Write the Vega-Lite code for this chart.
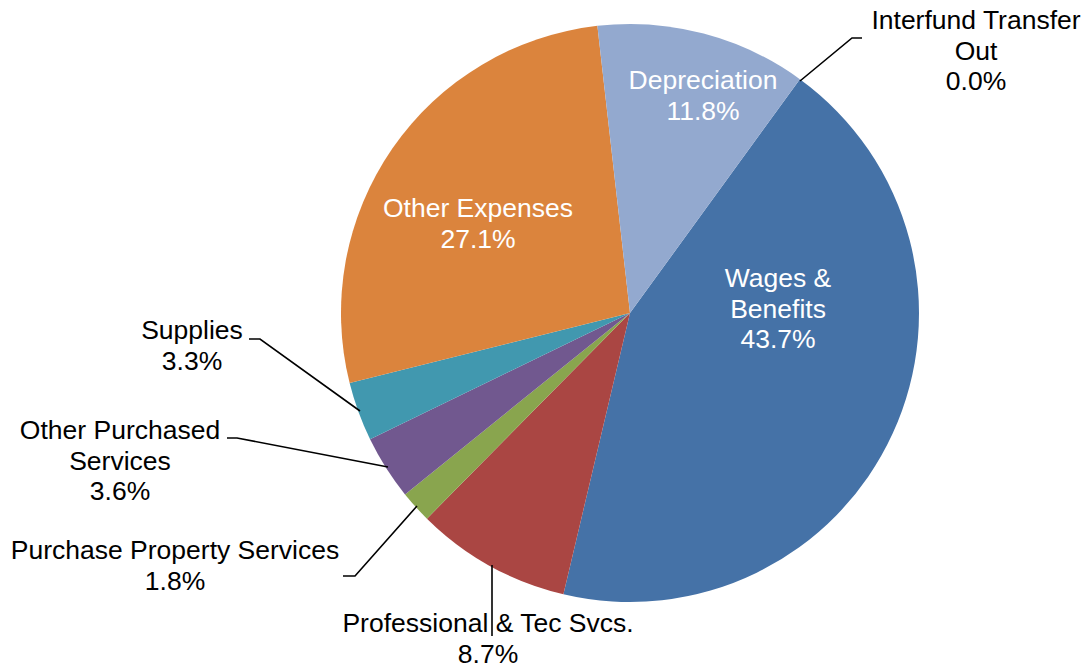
{
  "$schema": "https://vega.github.io/schema/vega-lite/v6.json",
  "autosize": "none",
  "width": 914,
  "height": 626,
  "padding": {"left": 173, "top": 0, "right": 0, "bottom": 41},
  "background": "white",
  "config": {"view": {"stroke": null}, "font": "Liberation Sans"},
  "datasets": {
    "slices": [
      {"category": "Wages & Benefits", "value": 43.7, "ord": 1, "label": "Wages &\nBenefits\n43.7%", "place": "inside", "lx": 148, "ly": -34},
      {"category": "Professional & Tec Svcs.", "value": 8.7, "ord": 2, "label": "Professional & Tec Svcs.\n8.7%", "place": "outside", "lx": -142, "ly": 311},
      {"category": "Purchase Property Services", "value": 1.8, "ord": 3, "label": "Purchase Property Services\n1.8%", "place": "outside", "lx": -455, "ly": 238},
      {"category": "Other Purchased Services", "value": 3.6, "ord": 4, "label": "Other Purchased\nServices\n3.6%", "place": "outside", "lx": -510, "ly": 118},
      {"category": "Supplies", "value": 3.3, "ord": 5, "label": "Supplies\n3.3%", "place": "outside", "lx": -438, "ly": 18},
      {"category": "Other Expenses", "value": 27.1, "ord": 6, "label": "Other Expenses\n27.1%", "place": "inside", "lx": -152, "ly": -104},
      {"category": "Depreciation", "value": 11.8, "ord": 7, "label": "Depreciation\n11.8%", "place": "inside", "lx": 73, "ly": -232},
      {"category": "Interfund Transfer Out", "value": 0.0, "ord": 8, "label": "Interfund Transfer\nOut\n0.0%", "place": "outside", "lx": 346, "ly": -292}
    ],
    "leaders": [
      {"category": "Interfund Transfer Out", "seq": 1, "x": 170, "y": -232},
      {"category": "Interfund Transfer Out", "seq": 2, "x": 222, "y": -275},
      {"category": "Interfund Transfer Out", "seq": 3, "x": 232, "y": -275},
      {"category": "Supplies", "seq": 1, "x": -381, "y": 26},
      {"category": "Supplies", "seq": 2, "x": -370, "y": 26},
      {"category": "Supplies", "seq": 3, "x": -270, "y": 98},
      {"category": "Other Purchased Services", "seq": 1, "x": -403, "y": 125},
      {"category": "Other Purchased Services", "seq": 2, "x": -393, "y": 125},
      {"category": "Other Purchased Services", "seq": 3, "x": -242, "y": 154},
      {"category": "Purchase Property Services", "seq": 1, "x": -287, "y": 263},
      {"category": "Purchase Property Services", "seq": 2, "x": -275, "y": 263},
      {"category": "Purchase Property Services", "seq": 3, "x": -213, "y": 193},
      {"category": "Professional & Tec Svcs.", "seq": 1, "x": -138, "y": 252},
      {"category": "Professional & Tec Svcs.", "seq": 2, "x": -138, "y": 323}
    ]
  },
  "layer": [
    {
      "data": {"name": "slices"},
      "mark": {"type": "arc", "outerRadius": 289, "stroke": null},
      "encoding": {
        "theta": {"field": "value", "type": "quantitative", "stack": true, "scale": {"range": [0.62832, 6.91150]}},
        "order": {"field": "ord", "type": "quantitative"},
        "color": {
          "field": "category",
          "type": "nominal",
          "legend": null,
          "scale": {
            "domain": ["Wages & Benefits", "Professional & Tec Svcs.", "Purchase Property Services", "Other Purchased Services", "Supplies", "Other Expenses", "Depreciation", "Interfund Transfer Out"],
            "range": ["#4572A7", "#AA4643", "#89A54E", "#71588F", "#4198AF", "#DB843D", "#93A9CF", "#D19392"]
          }
        }
      }
    },
    {
      "data": {"name": "leaders"},
      "mark": {"type": "line", "color": "black", "strokeWidth": 1.6, "clip": false},
      "encoding": {
        "x": {"field": "x", "type": "quantitative", "scale": {"domain": [-457, 457]}, "axis": null},
        "y": {"field": "y", "type": "quantitative", "scale": {"domain": [-313, 313], "reverse": true}, "axis": null},
        "detail": {"field": "category"},
        "order": {"field": "seq", "type": "quantitative"}
      }
    },
    {
      "data": {"name": "slices"},
      "transform": [{"filter": "datum.place === 'outside'"}],
      "mark": {"type": "text", "fontSize": 26.5, "lineHeight": 30.5, "lineBreak": "\n", "align": "center", "baseline": "middle", "color": "black", "font": "Liberation Sans"},
      "encoding": {
        "x": {"field": "lx", "type": "quantitative", "scale": {"domain": [-457, 457]}, "axis": null},
        "y": {"field": "ly", "type": "quantitative", "scale": {"domain": [-313, 313], "reverse": true}, "axis": null},
        "text": {"field": "label"}
      }
    },
    {
      "data": {"name": "slices"},
      "transform": [{"filter": "datum.place === 'inside'"}],
      "mark": {"type": "text", "fontSize": 26.5, "lineHeight": 30.5, "lineBreak": "\n", "align": "center", "baseline": "middle", "color": "white", "font": "Liberation Sans"},
      "encoding": {
        "x": {"field": "lx", "type": "quantitative", "scale": {"domain": [-457, 457]}, "axis": null},
        "y": {"field": "ly", "type": "quantitative", "scale": {"domain": [-313, 313], "reverse": true}, "axis": null},
        "text": {"field": "label"}
      }
    }
  ]
}
